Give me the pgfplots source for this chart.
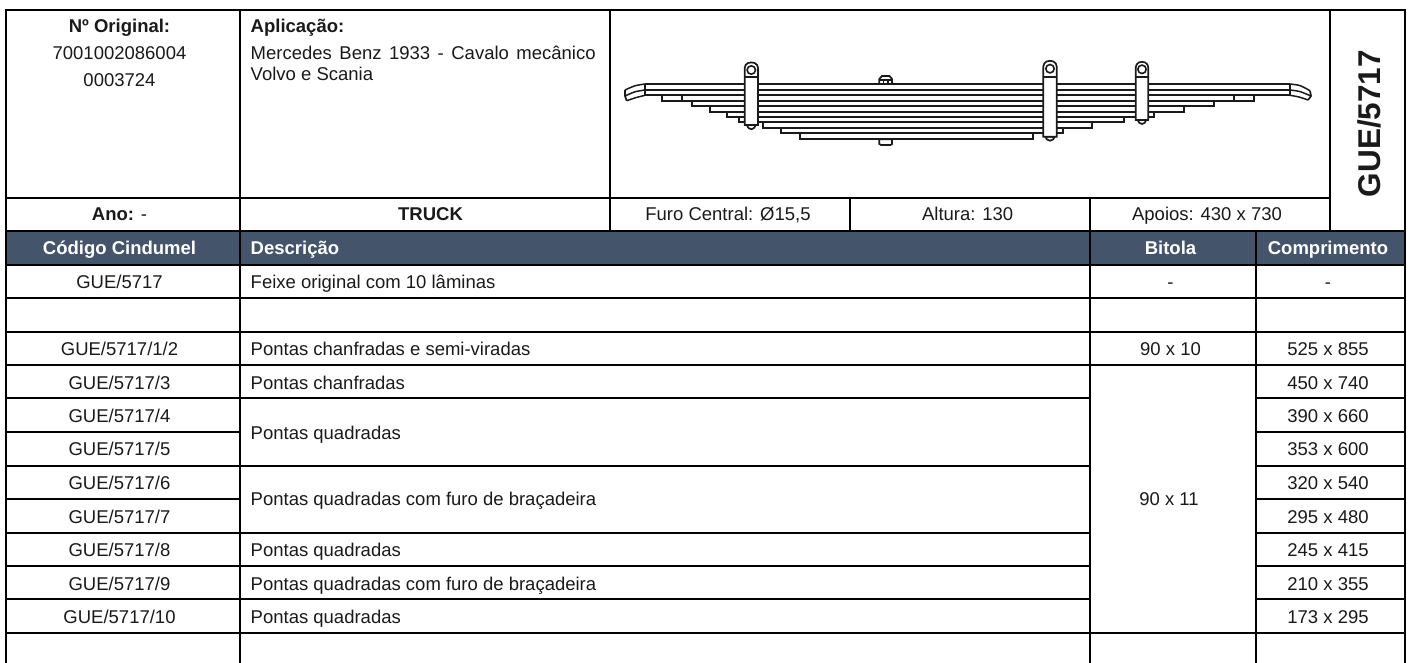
\documentclass[border=0pt]{standalone}
\usepackage{fontspec}
\setmainfont{Liberation Sans}
\usepackage{pgfplots}
\pgfplotsset{compat=1.18}
\definecolor{hdr}{HTML}{44546A}
\definecolor{txt}{HTML}{1A1A1A}
\definecolor{ink}{HTML}{1A1A1A}
\newcommand\fs{\fontsize{18.5}{21}\selectfont}
\newcommand\seg[4]{\addplot[black,line width=2pt,line cap=rect] coordinates {(#1,#2)(#3,#4)};}
\newcommand\leaf[1]{\addplot[ink,line width=1.7pt] coordinates {#1};}
\newcommand\curve[1]{\addplot[ink,line width=1.5pt,smooth] coordinates {#1};}
\newcommand\shape[1]{\addplot[ink,fill=white,line width=1.7pt] coordinates {#1} -- cycle;}
\newcommand\eye[2]{\addplot[only marks,mark=*,mark size=4.2pt,mark options={fill=white,draw=ink,line width=1.6pt}] coordinates {(#1,#2)};}
\newcommand\tc[3]{\node[anchor=base,inner sep=0pt,text=txt,font=\fs] at (axis cs:#1,#2) {#3};}
\newcommand\tl[3]{\node[anchor=base west,inner sep=0pt,text=txt,font=\fs] at (axis cs:#1,#2) {#3};}
\newcommand\tb[3]{\node[anchor=base,inner sep=0pt,text=txt,font=\fs\bfseries] at (axis cs:#1,#2) {#3};}
\newcommand\thd[3]{\node[anchor=base,inner sep=0pt,text=white,font=\fs\bfseries] at (axis cs:#1,#2) {#3};}
\begin{document}
\begin{tikzpicture}
\begin{axis}[
  scale only axis,width=1408pt,height=662pt,
  xmin=0,xmax=1408,ymin=0,ymax=662,y dir=reverse,
  hide axis,clip=true]
% page background
\addplot[fill=white,draw=none] coordinates {(0,0)(1408,0)(1408,662)(0,662)} -- cycle;
% header band
\addplot[fill=hdr,draw=none] coordinates {(6,231)(1405,231)(1405,264.5)(6,264.5)} -- cycle;
% outer and column rules
\seg{6}{9.5}{1405}{9.5}
\seg{6}{197.5}{1330}{197.5}
\seg{6}{231}{1405}{231}
\seg{6}{264.5}{1405}{264.5}
\seg{6}{9.5}{6}{662}
\seg{1405}{9.5}{1405}{662}
\seg{240}{9.5}{240}{662}
\seg{609.5}{9.5}{609.5}{231}
\seg{849.5}{197.5}{849.5}{231}
\seg{1090}{197.5}{1090}{662}
\seg{1330}{9.5}{1330}{231}
\seg{1255.5}{231}{1255.5}{662}
% body rules
\seg{6}{297.7}{1405}{297.7}
\seg{6}{331.5}{1405}{331.5}
\seg{6}{365}{1405}{365}
\seg{6}{398.3}{1090}{398.3}
\seg{1255.5}{398.3}{1405}{398.3}
\seg{6}{432}{240}{432}
\seg{1255.5}{432}{1405}{432}
\seg{6}{465.5}{1090}{465.5}
\seg{1255.5}{465.5}{1405}{465.5}
\seg{6}{499}{240}{499}
\seg{1255.5}{499}{1405}{499}
\seg{6}{532.7}{1090}{532.7}
\seg{1255.5}{532.7}{1405}{532.7}
\seg{6}{566}{1090}{566}
\seg{1255.5}{566}{1405}{566}
\seg{6}{599.3}{1090}{599.3}
\seg{1255.5}{599.3}{1405}{599.3}
\seg{6}{632.7}{1405}{632.7}
% spring leaves
\leaf{(645,84)(1290,84)}
\leaf{(645,90)(1290,90)}
\leaf{(645,84)(645,95.3)(1290,95.3)(1290,84)}
\leaf{(661.7,95.3)(661.7,100.7)(1254,100.7)(1254,95.3)}
\leaf{(681.7,95.3)(681.7,100.7)}
\leaf{(1234,95.3)(1234,100.7)}
\leaf{(691.7,100.7)(691.7,106)(1214.3,106)(1214.3,100.7)}
\leaf{(710,106)(710,111.7)(1184.3,111.7)(1184.3,106)}
\leaf{(726.7,111.7)(726.7,117)(1154.3,117)(1154.3,111.7)}
\leaf{(739.3,117)(739.3,122.3)(1124.3,122.3)(1124.3,117)}
\leaf{(763.3,122.3)(763.3,128)(1092.3,128)(1092.3,122.3)}
\leaf{(781.3,128)(781.3,133.3)(1062.7,133.3)(1062.7,128)}
\leaf{(800,133.3)(800,139.3)(1032.7,139.3)(1032.7,133.3)}
% tips
\curve{(645,84)(635,85.8)(625,90)}
\curve{(645,90)(635,91.8)(625,96)}
\curve{(645,95.3)(636,97.6)(626.7,100.7)}
\leaf{(625,90)(625,96)(626.7,100.7)}
\curve{(1290,84)(1300,85.6)(1310,90.7)}
\curve{(1290,90)(1300,91.6)(1311,96)}
\curve{(1290,95.3)(1299,97)(1308,100)}
\leaf{(1310,90.7)(1311,96)(1308,100)}
% centre bolt
\shape{(879.3,84)(879.3,79)(882,76)(889.5,76)(892,79)(892,84)}
\leaf{(879.3,80)(892,80)}
\leaf{(883.5,80)(883.5,84)}
\leaf{(888,80)(888,84)}
\shape{(879.3,139.3)(879.3,144)(881,145)(890.5,145)(892,144)(892,139.3)}
% clamps
\shape{(746.7,125)(748.5,128)(751.3,129.3)(754,128)(756,125)}
\shape{(744.7,125)(744.7,68)(745.6,65)(748,63)(751.3,62.4)(754.7,63)(757.1,65)(758,68)(758,125)}
\leaf{(744.7,76.7)(758,76.7)}
\eye{751.3}{70}
\shape{(1045.3,136.7)(1047,139.5)(1050,140.7)(1053,139.5)(1054.7,136.7)}
\shape{(1043.3,136.7)(1043.3,66.5)(1044.2,63.5)(1046.6,61.5)(1050,60.8)(1053.4,61.5)(1055.8,63.5)(1056.7,66.5)(1056.7,136.7)}
\leaf{(1043.3,76.7)(1056.7,76.7)}
\eye{1050}{68.7}
\shape{(1137.7,120)(1139.3,122.8)(1142,124)(1144.7,122.8)(1146.3,120)}
\shape{(1135.7,120)(1135.7,67.5)(1136.6,64.5)(1138.8,62.5)(1142,61.8)(1145.2,62.5)(1147.4,64.5)(1148.3,67.5)(1148.3,120)}
\leaf{(1135.7,76.7)(1148.3,76.7)}
\eye{1142}{69.3}
% top block text
\tb{119.5}{32.3}{Nº Original:}
\tc{119.5}{59.3}{7001002086004}
\tc{119.5}{86.7}{0003724}
\node[anchor=base west,inner sep=0pt,text=txt,font=\fs\bfseries] at (axis cs:250.5,32.3) {Aplicação:};
\node[anchor=base west,inner sep=0pt,text=txt,font=\fs] at (axis cs:250.5,59.3) {\makebox[345pt][s]{Mercedes Benz 1933 - Cavalo mecânico}};
\tl{250.5}{80}{Volvo e Scania}
\node[anchor=base,rotate=90,inner sep=0pt,text=txt,font=\fontsize{31.5}{36}\selectfont\bfseries] at (axis cs:1380,123.5) {GUE/5717};
\node[anchor=base,inner sep=0pt,text=txt,font=\fs] at (axis cs:119.5,220.7) {\textbf{Ano:} -};
\tb{430.5}{220.7}{TRUCK}
\tc{728}{220.7}{Furo Central: Ø15,5}
\tc{967.7}{220.7}{Altura: 130}
\tc{1207}{220.7}{Apoios: 430 x 730}
% header text
\thd{119.5}{254.5}{Código Cindumel}
\node[anchor=base west,inner sep=0pt,text=white,font=\fs\bfseries] at (axis cs:250.5,254.5) {Descrição};
\thd{1170.5}{254.5}{Bitola}
\thd{1328}{254.5}{Comprimento}
% rows
\tc{119.5}{288.3}{GUE/5717}
\tl{250.5}{288.3}{Feixe original com 10 lâminas}
\tc{1170.5}{288.3}{-}
\tc{1328}{288.3}{-}
\tc{119.5}{355.5}{GUE/5717/1/2}
\tl{250.5}{355.5}{Pontas chanfradas e semi-viradas}
\tc{1170.5}{355.5}{90 x 10}
\tc{1328}{355.5}{525 x 855}
\tc{119.5}{389}{GUE/5717/3}
\tl{250.5}{389}{Pontas chanfradas}
\tc{1328}{389}{450 x 740}
\tc{119.5}{422}{GUE/5717/4}
\tc{1328}{422}{390 x 660}
\tc{119.5}{455.5}{GUE/5717/5}
\tc{1328}{455.5}{353 x 600}
\tl{250.5}{439}{Pontas quadradas}
\tc{119.5}{489.5}{GUE/5717/6}
\tc{1328}{489.5}{320 x 540}
\tc{119.5}{523.3}{GUE/5717/7}
\tc{1328}{523.3}{295 x 480}
\tl{250.5}{505.5}{Pontas quadradas com furo de braçadeira}
\tc{1169}{505.5}{90 x 11}
\tc{119.5}{556.7}{GUE/5717/8}
\tl{250.5}{556.7}{Pontas quadradas}
\tc{1328}{556.7}{245 x 415}
\tc{119.5}{590}{GUE/5717/9}
\tl{250.5}{590}{Pontas quadradas com furo de braçadeira}
\tc{1328}{590}{210 x 355}
\tc{119.5}{623.3}{GUE/5717/10}
\tl{250.5}{623.3}{Pontas quadradas}
\tc{1328}{623.3}{173 x 295}
\end{axis}
\end{tikzpicture}
\end{document}
